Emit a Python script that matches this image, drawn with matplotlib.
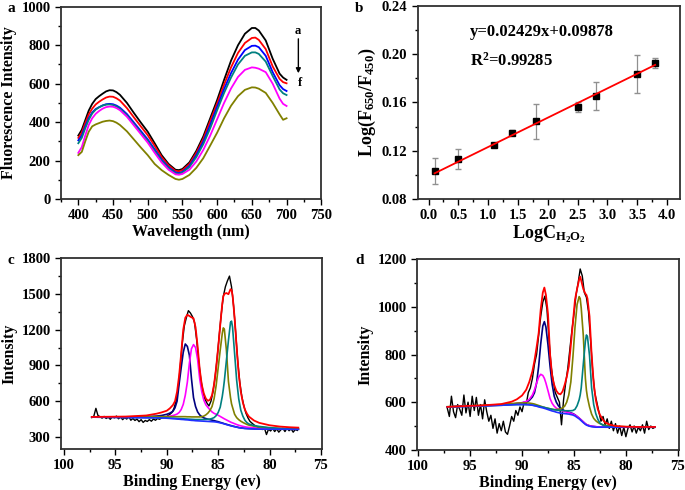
import numpy as np
import matplotlib
matplotlib.use('Agg')
import matplotlib.pyplot as plt
from matplotlib.ticker import MultipleLocator, FormatStrFormatter

plt.rcParams['font.family'] = 'Liberation Serif'
plt.rcParams['font.weight'] = 'bold'
plt.rcParams['axes.labelweight'] = 'bold'
plt.rcParams['mathtext.fontset'] = 'custom'
plt.rcParams['mathtext.rm'] = 'Liberation Serif:bold'
plt.rcParams['mathtext.it'] = 'Liberation Serif:bold'
plt.rcParams['mathtext.bf'] = 'Liberation Serif:bold'

# ---------- panel a : fluorescence spectra ----------
wl = [400, 405, 410, 415, 420, 425, 430, 435, 440, 445, 450, 455, 460, 470, 480, 490, 500, 510, 520, 530,
      540, 545, 550, 560, 570, 580, 590, 600, 610, 620, 630, 640, 650, 655, 660, 670, 680, 690, 695, 700]
spec_black = [330, 360, 410, 460, 495, 520, 535, 548, 560, 566, 565, 556, 542, 500, 448, 398, 350, 290, 228, 182,
              152, 150, 156, 190, 250, 325, 420, 515, 620, 720, 800, 860, 890, 890, 877, 825, 730, 652, 632, 620]
spec_red = [318, 345, 395, 440, 470, 492, 506, 518, 528, 533, 532, 524, 512, 473, 425, 378, 332, 276, 218, 175,
            146, 144, 150, 182, 240, 312, 405, 498, 595, 685, 760, 812, 838, 840, 828, 780, 690, 625, 608, 602]
spec_blue = [305, 330, 378, 420, 450, 468, 478, 487, 493, 495, 493, 486, 475, 442, 398, 354, 310, 258, 205, 165,
             138, 135, 141, 172, 228, 298, 385, 480, 572, 655, 725, 775, 797, 798, 790, 745, 660, 592, 572, 562]
spec_teal = [290, 318, 368, 412, 445, 465, 477, 486, 491, 492, 489, 481, 469, 435, 390, 346, 302, 250, 198, 160,
             133, 131, 137, 166, 218, 285, 368, 462, 552, 632, 700, 745, 763, 763, 755, 715, 640, 570, 550, 541]
spec_magenta = [240, 270, 330, 385, 420, 443, 458, 470, 478, 481, 480, 473, 462, 428, 383, 338, 293, 240, 190, 152,
                128, 126, 130, 152, 195, 255, 330, 415, 500, 575, 635, 672, 685, 683, 678, 660, 600, 522, 495, 484]
spec_olive = [228, 245, 300, 350, 378, 388, 395, 402, 406, 408, 405, 397, 385, 352, 310, 268, 228, 182, 150, 125,
              104, 100, 104, 125, 162, 212, 278, 345, 420, 485, 535, 568, 581, 580, 574, 552, 500, 440, 412, 420]

# ---------- panel b : calibration ----------
logc = [0.1, 0.5, 1.1, 1.4, 1.8, 2.5, 2.8, 3.5, 3.8]
ratio = [0.1030, 0.1132, 0.1246, 0.1348, 0.1445, 0.1561, 0.1653, 0.1833, 0.1929]
ratio_err = [0.0110, 0.0083, 0.0010, 0.0020, 0.0145, 0.0044, 0.0116, 0.0156, 0.0040]
fit_slope = 0.02429
fit_intercept = 0.09878

# ---------- panel c : XPS ----------
c_raw_e = np.round(np.linspace(97.3, 77.3, 101), 1)
c_raw = [462, 475, 540, 480, 470, 458, 472, 455, 466, 448,
         470, 460, 475, 452, 468, 445, 462, 450, 470, 440,
         455, 438, 450, 428, 445, 422, 438, 430, 445, 432,
         450, 440, 455, 448, 460, 470, 465, 478, 490, 505,
         540, 600, 700, 880, 1080, 1230, 1300, 1360, 1340, 1310,
         1260, 1120, 940, 790, 690, 620, 585, 560, 600, 680,
         800, 960, 1150, 1330, 1480, 1560, 1610, 1650, 1560, 1400,
         1180, 940, 760, 640, 560, 500, 460, 430, 415, 400,
         390, 378, 370, 362, 375, 320, 365, 350, 372, 345,
         368, 340, 360, 372, 345, 375, 352, 368, 340, 362,
         355]
c_e = [97.3, 96, 94, 92, 91, 90.5, 90, 89.7, 89.4, 89.2, 89.0, 88.8, 88.6, 88.4, 88.2, 88.0, 87.8, 87.6, 87.4, 87.2,
       87.0, 86.8, 86.6, 86.4, 86.2, 86.0, 85.8, 85.6, 85.4, 85.2, 85.0, 84.8, 84.6, 84.5, 84.4, 84.2, 84.0, 83.8,
       83.7, 83.6, 83.4, 83.2, 83.0, 82.8, 82.6, 82.4, 82.2, 82.0, 81.5, 81.0, 80, 79, 78, 77.2]
c_bg = [466, 465, 463, 461, 460, 459, 457, 455, 453, 452, 450, 449, 447, 446, 444, 443, 441, 439, 438, 436,
        435, 434, 433, 432, 431, 430, 429, 428, 427, 425, 422, 418, 414, 412, 409, 404, 399, 394,
        392, 390, 386, 382, 378, 375, 373, 371, 370, 369, 367, 366, 365, 365, 364, 364]
c_navy = [468, 468, 468, 470, 475, 480, 490, 500, 515, 545, 600, 745, 880, 1010, 1080, 1060, 985, 790, 630, 555,
          510, 485, 470, 460, 454, 449, 445, 441, 437, 432, 428, 422, 417, 414, 411, 406, 401, 396,
          394, 391, 387, 383, 379, 376, 374, 372, 371, 370, 368, 367, 366, 365, 365, 364]
c_magenta = [466, 466, 465, 465, 466, 467, 470, 474, 480, 485, 492, 505, 530, 573, 650, 760, 920, 1040, 1075, 1050,
             950, 790, 680, 610, 570, 548, 528, 510, 498, 490, 482, 472, 462, 457, 452, 443, 434, 425,
             421, 418, 411, 404, 398, 393, 389, 385, 382, 380, 376, 373, 370, 368, 367, 366]
c_olive = [466, 467, 468, 469, 470, 470, 470, 470, 470, 470, 470, 470, 470, 470, 470, 469, 469, 468, 468, 468,
           468, 468, 470, 475, 485, 500, 522, 555, 620, 730, 880, 1030, 1170, 1215, 1205, 1030, 765, 630,
           578, 548, 490, 462, 445, 432, 422, 413, 405, 399, 390, 383, 375, 370, 367, 366]
c_teal = [466, 465, 463, 462, 461, 460, 459, 458, 457, 456, 455, 454, 453, 452, 451, 450, 449, 448, 447, 446,
          446, 446, 446, 446, 447, 448, 450, 455, 462, 478, 505, 550, 640, 700, 770, 940, 1110, 1262,
          1272, 1220, 1000, 775, 620, 525, 475, 440, 420, 408, 395, 388, 378, 372, 369, 368]
c_fit = [468, 469, 471, 480, 495, 506, 520, 540, 568, 600, 680, 815, 1000, 1200, 1300, 1326, 1315, 1304, 1296, 1220,
         1060, 870, 740, 665, 622, 603, 612, 650, 740, 880, 1050, 1240, 1420, 1480, 1500, 1508, 1498, 1540,
         1535, 1490, 1300, 1050, 830, 680, 590, 530, 495, 470, 437, 418, 398, 387, 381, 378]

# ---------- panel d : XPS ----------
d_raw_e = np.round(np.linspace(97.2, 77.2, 101), 1)
d_raw = [575, 540, 625, 560, 535, 590, 570, 545, 630, 555,
         600, 540, 625, 565, 620, 545, 590, 530, 610, 560,
         520, 545, 490, 530, 470, 510, 480, 520, 475, 465,
         500, 540, 520, 565, 545, 580, 560, 600, 590, 640,
         660, 700, 760, 800, 880, 960, 1020, 1045, 990, 860,
         750, 690, 640, 620, 600, 505, 610, 680, 740, 820,
         900, 970, 1050, 1100, 1159, 1130, 1060, 1040, 980, 860,
         730, 640, 600, 560, 520, 540, 505, 530, 490, 520,
         480, 510, 470, 500, 460, 495, 455, 490, 505, 475,
         500, 470, 495, 480, 505, 470, 520, 485, 500, 490,
         495]
d_e = [97.2, 96, 94, 92, 91, 90.5, 90, 89.6, 89.3, 89.0, 88.8, 88.6, 88.4, 88.2, 88.0, 87.85, 87.7, 87.5, 87.3, 87.1,
       86.9, 86.7, 86.5, 86.3, 86.1, 85.9, 85.7, 85.5, 85.3, 85.1, 84.9, 84.7, 84.5, 84.4, 84.3, 84.1, 83.9, 83.8,
       83.7, 83.5, 83.3, 83.1, 82.9, 82.7, 82.5, 82.2, 82.0, 81.5, 81, 80, 79, 78, 77.2]
d_bg = [580, 582, 584, 587, 589, 590, 590, 590, 589, 587, 585, 583, 580, 578, 576, 574, 572, 569, 566, 563,
        561, 558, 556, 554, 553, 552, 551, 550, 548, 546, 542, 536, 530, 526, 522, 514, 507, 504,
        502, 499, 497, 496, 495, 495, 495, 495, 495, 495, 495, 495, 495, 495, 495]
d_navy = [580, 582, 585, 589, 592, 594, 597, 601, 607, 622, 640, 680, 750, 845, 920, 938, 915, 840, 750, 675,
          625, 600, 585, 575, 568, 564, 561, 558, 555, 552, 547, 540, 533, 529, 525, 517, 509, 506,
          504, 501, 499, 498, 497, 496, 496, 496, 495, 495, 495, 495, 495, 495, 495]
d_magenta = [580, 582, 584, 588, 591, 594, 598, 603, 612, 630, 652, 680, 705, 717, 712, 700, 680, 648, 615, 595,
             583, 575, 570, 566, 563, 560, 558, 556, 553, 550, 546, 540, 533, 529, 525, 517, 509, 506,
             504, 501, 499, 498, 497, 496, 496, 496, 495, 495, 495, 495, 495, 495, 495]
d_olive = [581, 583, 586, 590, 594, 596, 597, 597, 596, 594, 592, 589, 586, 583, 580, 578, 576, 574, 572, 570,
           569, 569, 570, 572, 576, 583, 600, 630, 685, 790, 915, 1010, 1043, 1035, 995, 880, 700, 650,
           620, 580, 550, 532, 522, 515, 510, 505, 503, 500, 498, 497, 496, 496, 496]
d_teal = [580, 582, 584, 587, 589, 590, 590, 590, 589, 588, 586, 585, 583, 581, 579, 578, 576, 574, 572, 570,
          568, 567, 566, 565, 565, 564, 564, 564, 564, 565, 570, 585, 610, 630, 660, 760, 855, 882,
          875, 795, 660, 590, 552, 528, 512, 503, 500, 497, 496, 495, 495, 495, 495]
d_fit = [580, 583, 586, 592, 602, 612, 628, 652, 685, 730, 775, 830, 890, 990, 1060, 1081, 1050, 970, 800, 710,
         672, 648, 636, 633, 645, 672, 705, 750, 840, 935, 1030, 1075, 1115, 1127, 1110, 1075, 1055, 1050,
         1035, 960, 800, 680, 610, 570, 547, 525, 515, 505, 500, 497, 496, 496, 496]


def style_axes(ax, xmaj, xmin, ymaj, ymin):
    for s in ax.spines.values():
        s.set_linewidth(1.3)
        s.set_color('#303030')
    ax.xaxis.set_major_locator(MultipleLocator(xmaj))
    ax.xaxis.set_minor_locator(MultipleLocator(xmin))
    ax.yaxis.set_major_locator(MultipleLocator(ymaj))
    ax.yaxis.set_minor_locator(MultipleLocator(ymin))
    ax.tick_params(which='both', direction='out', top=False, right=False, width=1, labelsize=10.5)
    ax.tick_params(which='major', length=4)
    ax.tick_params(which='minor', length=2.5)


fig = plt.figure(figsize=(6.85, 4.9), dpi=100)
ax_a = fig.add_axes([0.089, 0.594, 0.380, 0.392])
ax_b = fig.add_axes([0.610, 0.594, 0.383, 0.394])
ax_c = fig.add_axes([0.089, 0.084, 0.381, 0.389])
ax_d = fig.add_axes([0.609, 0.082, 0.382, 0.389])

# panel a
for vals, col in [(spec_black, 'black'), (spec_red, 'red'), (spec_blue, 'blue'),
                  (spec_teal, '#008080'), (spec_magenta, 'magenta'), (spec_olive, '#808000')]:
    ax_a.plot(wl, vals, color=col, lw=1.3)
ax_a.set_xlim(375, 750)
ax_a.set_ylim(0, 1000)
style_axes(ax_a, 50, 25, 200, 100)
ax_a.set_xlabel('Wavelength (nm)', fontsize=11.5, labelpad=1)
ax_a.set_ylabel('Fluorescence Intensity', fontsize=11.5, labelpad=3)
ax_a.annotate('', xy=(717, 640), xytext=(717, 848),
              arrowprops=dict(arrowstyle='-|>', color='black', lw=1, mutation_scale=7))
ax_a.text(716, 872, 'a', fontsize=9, ha='center', va='center')
ax_a.text(720, 603, 'f', fontsize=9, ha='center', va='center')

# panel b
ax_b.errorbar(logc, ratio, yerr=ratio_err, fmt='none', ecolor='#909090', elinewidth=0.9, capsize=2)
ax_b.plot(logc, ratio, 's', color='black', ms=4)
xfit = np.array([logc[0], logc[-1]])
ax_b.plot(xfit, fit_slope * xfit + fit_intercept, color='red', lw=1.3)
ax_b.set_xlim(-0.18, 4.22)
ax_b.set_ylim(0.08, 0.24)
style_axes(ax_b, 0.5, 0.25, 0.04, 0.02)
ax_b.xaxis.set_major_formatter(FormatStrFormatter('%.1f'))
ax_b.yaxis.set_major_formatter(FormatStrFormatter('%.2f'))
ax_b.text(0.70, 0.2185, 'y=0.02429x+0.09878', fontsize=12, va='center')
ax_b.text(0.70, 0.1945, 'R$^{2}$=0.99285', fontsize=12, va='center')
ax_b.set_xlabel('LogC$_{\\mathregular{H_2O_2}}$', fontsize=13, labelpad=1)
ax_b.set_ylabel('Log(F$_{650}$/F$_{450}$)', fontsize=13, labelpad=3)

# panels c, d
for ax, raw_e, raw, e, bg, navy, mag, olive, teal, fit in [
        (ax_c, c_raw_e, c_raw, c_e, c_bg, c_navy, c_magenta, c_olive, c_teal, c_fit),
        (ax_d, d_raw_e, d_raw, d_e, d_bg, d_navy, d_magenta, d_olive, d_teal, d_fit)]:
    ax.plot(raw_e, raw, color='black', lw=1.0)
    ax.plot(e, navy, color='#000080', lw=1.2)
    ax.plot(e, mag, color='magenta', lw=1.2)
    ax.plot(e, olive, color='#808000', lw=1.2)
    ax.plot(e, teal, color='#008080', lw=1.2)
    ax.plot(e, bg, color='#2030ff', lw=1.2)
    ax.plot(e, fit, color='red', lw=1.3)
    ax.set_xlabel('Binding Energy (ev)', fontsize=11.5, labelpad=1)
    ax.set_ylabel('Intensity', fontsize=11.5, labelpad=3)

ax_c.set_xlim(100.3, 74.9)
ax_c.set_ylim(200, 1800)
style_axes(ax_c, 5, 2.5, 300, 150)
ax_d.set_xlim(100.1, 74.9)
ax_d.set_ylim(400, 1200)
style_axes(ax_d, 5, 2.5, 200, 100)

fig.text(7 / 685, 1 - 8 / 490, 'a', fontsize=11, ha='left', va='center')
fig.text(355 / 685, 1 - 8 / 490, 'b', fontsize=11, ha='left', va='center')
fig.text(7 / 685, 1 - 260 / 490, 'c', fontsize=11, ha='left', va='center')
fig.text(355 / 685, 1 - 260 / 490, 'd', fontsize=11, ha='left', va='center')

fig.savefig('out.png', dpi=100)
